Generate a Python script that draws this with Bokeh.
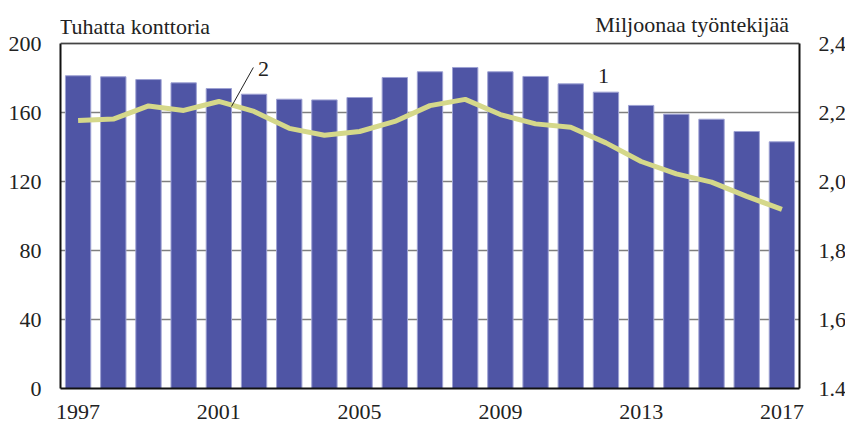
from bokeh.plotting import figure
from bokeh.models import Range1d, LinearAxis, FixedTicker, Label, Span, ColumnDataSource
from bokeh.embed import file_html
from bokeh.resources import INLINE

years = list(range(1997, 2018))
offices = [181.3, 180.7, 179.1, 177.2, 173.9, 170.6, 167.7, 167.3, 168.7, 180.3,
           183.6, 186.1, 183.6, 180.9, 176.6, 171.8, 164.1, 159.0, 156.1, 149.0, 143.0]
workers = [2.177, 2.181, 2.219, 2.206, 2.232, 2.203, 2.154, 2.134, 2.145, 2.174,
           2.220, 2.238, 2.194, 2.167, 2.157, 2.112, 2.058, 2.022, 1.998, 1.957, 1.919]
left_ticks = [0, 40, 80, 120, 160, 200]
right_ticks = [1.4, 1.6, 1.8, 2.0, 2.2, 2.4]
right_labels = ["1.4", "1,6", "1,8", "2,0", "2,2", "2,4"]
x_ticks = [1997, 2001, 2005, 2009, 2013, 2017]

FONT = "Liberation Serif"
TXT = "#222222"

# plot box: axes span 0..200 over 345 px; extra headroom above for the titles
AX_H = 345
FRAME_H = 380
left_top = 200 * FRAME_H / AX_H
right_top = 1.4 + 1.0 * FRAME_H / AX_H

src = ColumnDataSource(dict(x=years, offices=offices, workers=workers))

p = figure(frame_width=739, frame_height=FRAME_H, output_backend="svg", toolbar_location=None,
           x_range=Range1d(1996.5, 2017.5), y_range=Range1d(0, left_top),
           min_border_left=60, min_border_right=46, min_border_top=8, min_border_bottom=36)
p.extra_y_ranges = {"right": Range1d(1.4, right_top)}
p.outline_line_color = None

p.xgrid.visible = False
p.ygrid.ticker = FixedTicker(ticks=left_ticks)
p.ygrid.grid_line_color = "#7f7f7f"
p.ygrid.grid_line_width = 1.3

p.vbar(x="x", top="offices", width=0.72, source=src, fill_color="#4f55a5",
       line_color="#9da1d3", line_width=1)
p.line(x="x", y="workers", source=src, y_range_name="right", line_color="#d5d88a",
       line_width=5)

p.add_layout(Span(location=200, dimension="width", line_color="#444444", line_width=1.6))

p.xaxis.ticker = FixedTicker(ticks=x_ticks)
p.yaxis.ticker = FixedTicker(ticks=left_ticks)
p.yaxis.bounds = (0, 200)

rax = LinearAxis(y_range_name="right", ticker=FixedTicker(ticks=right_ticks), bounds=(1.4, 2.4))
rax.major_label_overrides = {t: l for t, l in zip(right_ticks, right_labels)}
p.add_layout(rax, "right")

for ax in p.axis:
    ax.axis_line_color = "#111111"
    ax.axis_line_width = 2
    ax.major_tick_line_color = None
    ax.minor_tick_line_color = None
    ax.major_label_text_font = FONT
    ax.major_label_text_font_size = "22px"
    ax.major_label_text_color = TXT
    ax.major_label_standoff = 13
p.xaxis.major_label_standoff = 10

p.add_layout(Label(x=1996.45, y=209.9, text="Tuhatta konttoria", text_font=FONT,
                   text_font_size="22px", text_color=TXT, text_align="left",
                   text_baseline="alphabetic"))
p.add_layout(Label(x=2017.2, y=211.3, text="Miljoonaa työntekijää", text_font=FONT,
                   text_font_size="22px", text_color=TXT, text_align="right",
                   text_baseline="alphabetic"))
p.add_layout(Label(x=2002.27, y=185.5, text="2", text_font=FONT, text_font_size="22px",
                   text_color=TXT, text_align="center", text_baseline="alphabetic"))
p.add_layout(Label(x=2011.93, y=180.9, text="1", text_font=FONT, text_font_size="22px",
                   text_color=TXT, text_align="center", text_baseline="alphabetic"))
p.segment(x0=[2001.98], y0=[186.1], x1=[2001.36], y1=[163.5], line_color="#222222",
          line_width=1)

open("out.html", "w").write(file_html(p, INLINE))
